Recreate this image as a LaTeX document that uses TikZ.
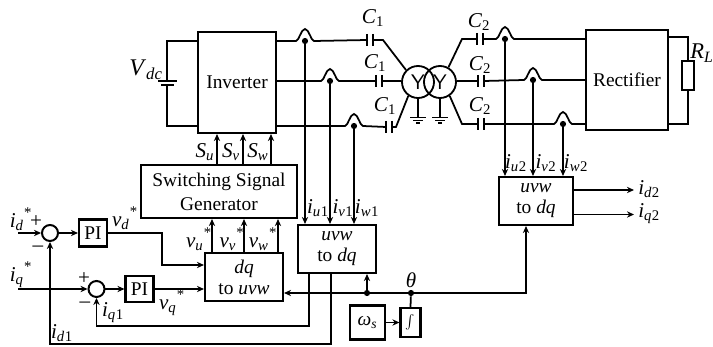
\documentclass[tikz,border=0pt]{standalone}
\usepackage{fontspec}
\setmainfont{Liberation Serif}
\usetikzlibrary{arrows.meta,positioning}

% jump of a wire over a sensing point
\newcommand{\hump}[2]{-- ({#1-9},#2) .. controls ({#1-6},#2) and ({#1-4},{#2-12}) .. ({#1},{#2-12}) .. controls ({#1+4},{#2-12}) and ({#1+6},#2) .. ({#1+9},#2)}
\newcommand{\lbl}[2]{\textit{#1}\textsubscript{\textit{#2}}}
\newcommand{\lbn}[3]{\textit{#1}\textsubscript{\textit{#2}\kern0.3pt #3}}
\newcommand{\lbs}[2]{\textit{#1}\textsubscript{\textit{#2}}\raisebox{2pt}{\textsuperscript{\kern0.2pt *}}}

\begin{document}
\begin{tikzpicture}[
    x=0.025cm, y=-0.025cm,
    wire/.style={line width=1.25pt},
    sig/.style={line width=1.25pt, -{Stealth[length=5pt,width=4.5pt]}},
    block/.style={draw, line width=1.5pt, align=center, inner sep=0pt, font=\fontsize{13.8}{17}\selectfont},
    conv/.style={block, font=\fontsize{13.8}{15}\selectfont},
    txt/.style={font=\fontsize{15}{16}\selectfont, inner sep=0pt},
    sumnode/.style={draw, circle, line width=1.4pt, minimum size=0.4cm, inner sep=0pt},
    dot/.style={fill, circle, minimum size=4.4pt, inner sep=0pt},
    ywind/.style={draw, circle, line width=1.3pt, minimum size=0.8cm, inner sep=0pt, font=\fontsize{15}{15}\sffamily\selectfont}
]
\useasboundingbox (0,0) rectangle (713,347);

% Blocks
\node[block, minimum width=1.95cm, minimum height=2.525cm] (inv) at (237,82.5) {Inverter};
\node[block, minimum width=2.05cm, minimum height=2.5cm] (rect) at (627,80) {Rectifier};
\node[block, minimum width=3.9cm, minimum height=1.325cm] (gen) at (219,191.5) {Switching Signal\\Generator};
\node[conv, minimum width=1.95cm, minimum height=1.2cm] (dq) at (244,277) {\textit{dq}\\to \textit{uvw}};
\node[conv, minimum width=1.95cm, minimum height=1.2cm] (ub1) at (337,249) {\textit{uvw}\\to \textit{dq}};
\node[conv, minimum width=1.85cm, minimum height=1.2cm] (ub2) at (536,201) {\textit{uvw}\\to \textit{dq}};
\node[block, minimum width=0.7cm, minimum height=0.675cm] (pi1) at (93,233) {PI};
\node[block, minimum width=0.7cm, minimum height=0.65cm] (pi2) at (139.5,289) {PI};
\node[block, minimum width=0.875cm, minimum height=0.85cm] (om) at (367.5,322.5) {\textit{ω}\textsubscript{\textit{s}}};
\node[block, minimum width=0.5cm, minimum height=0.725cm] (intg) at (410.5,322.5) {$\int$};
\node[sumnode] (s1) at (50,233) {};
\node[sumnode] (s2) at (96.5,289) {};
\node[ywind] (yl) at (418,82) {Y};
\node[ywind] (yr) at (440,82) {Y};
\node[draw, line width=1pt, minimum width=0.3cm, minimum height=0.725cm, inner sep=0pt] (rl) at (688,75.5) {};

% Battery
\coordinate (bt) at (167,41);
\coordinate (bb) at (167,126);
\coordinate (pa) at (167,81);
\coordinate (pb) at (167,85);
\draw[wire] (inv.west |- bt) -- (bt) -- (pa);
\draw[wire] (inv.west |- bb) -- (bb) -- (pb);
\draw[wire] (158,81) -- (177,81);
\draw[line width=1.7pt] (161,85) -- (174,85);
\node[txt, font=\fontsize{17}{17}\selectfont] (vdc) at (146,70) {\lbl{V}{dc}};

% Capacitors
\foreach \n/\x/\y in {ca/367/40, cb/376/81, cc/386/127, cd/477/39, ce/478/81, cf/478/124} {
    \coordinate (\n l) at (\x,\y);
    \coordinate (\n r) at (\x+6,\y);
    \draw[wire] (\x,\y-6) -- (\x,\y+6);
    \draw[wire] (\x+6,\y-6) -- (\x+6,\y+6);
}
\foreach \n/\x/\y/\t in {la/373/18/1, lb/375/63/1, lc/385/106/1, ld/479/22/2, le/480/65/2, lf/480/106/2} {
    \node[txt] (\n) at (\x,\y) {\textit{C}\textsubscript{\t}};
}

% Sensing points on the wires
\foreach \n/\x/\y in {hu/305/41, hv/330/81, hw/354/126, ku/505/39, kv/533/80, kw/563/124} {
    \coordinate (\n) at (\x,\y);
    \node[dot] (\n d) at (\x,\y) {};
}

% Primary side
\coordinate (ta) at (383,40);
\coordinate (tk) at (396,127);
\draw[wire] (inv.east |- hu) \hump{305}{41} -- (cal);
\draw[wire] (car) -- (ta) -- (yl.135);
\draw[wire] (inv.east |- hv) \hump{330}{81} -- (cbl);
\draw[wire] (cbr) -- (yl.west |- cbr);
\draw[wire] (inv.east |- hw) \hump{354}{126} -- (ccl);
\draw[wire] (ccr) -- (tk) -- (yl.235);

% Grounds
\foreach \n/\w in {yl/418, yr/440} {
    \coordinate (\n g) at (\w,117.5);
    \draw[wire] (\n.south) -- (\n g);
    \draw[wire] (\w-8,117.5) -- (\w+8,117.5);
    \draw[wire] (\w-5,120.5) -- (\w+5,120.5);
    \draw[wire] (\w-2,123) -- (\w+2,123);
}

% Secondary side
\coordinate (tb) at (462,39);
\coordinate (tc) at (462,124);
\draw[wire] (yr.60) -- (tb) -- (cdl);
\draw[wire] (cdr) \hump{505}{39} -- (rect.west |- ku);
\draw[wire] (yr.east |- cel) -- (cel);
\draw[wire] (cer) \hump{533}{80} -- (rect.west |- kv);
\draw[wire] (yr.-55) -- (tc) -- (cfl);
\draw[wire] (cfr) \hump{563}{124} -- (rect.west |- kw);

% Load
\coordinate (lt) at (688,37);
\coordinate (lb) at (688,124);
\draw[wire] (rect.east |- lt) -- (lt) -- (rl.north);
\draw[wire] (rect.east |- lb) -- (lb) -- (rl.south);
\node[txt, font=\fontsize{16}{16}\selectfont] (rlb) at (702,53) {\lbl{R}{L}};

% Current sensing
\draw[sig] (hu) -- (hu |- ub1.north);
\draw[sig] (hv) -- (hv |- ub1.north);
\draw[sig] (hw) -- (hw |- ub1.north);
\draw[sig] (ku) -- (ku |- ub2.north);
\draw[sig] (kv) -- (kv |- ub2.north);
\draw[sig] (kw) -- (kw |- ub2.north);
\foreach \n/\x/\y/\a/\b in {iu/318/208/u/1, iv/343/208/v/1, iw/367/208/w/1, ju/516/163/u/2, jv/546/163/v/2, jw/576/163/w/2} {
    \node[txt] (\n) at (\x,\y) {\lbn{i}{\a}{\b}};
}

% Gate signals
\foreach \n/\x in {su/217, sv/243, sw/271} {
    \coordinate (\n) at (\x,149);
    \draw[sig] (gen.north -| \n) -- (inv.south -| \n);
}
\node[txt] (sul) at (205,152) {\lbl{S}{u}};
\node[txt] (svl) at (231,152) {\lbl{S}{v}};
\node[txt] (swl) at (258,152) {\lbl{S}{w}};

% Modulation signals
\foreach \n/\x in {vu/212, vv/244, vw/278} {
    \coordinate (\n) at (\x,235);
    \draw[sig] (dq.north -| \n) -- (gen.south -| \n);
}
\node[txt] (vul) at (199,239) {\lbs{v}{u}};
\node[txt] (vvl) at (232,239) {\lbs{v}{v}};
\node[txt] (vwl) at (263,239) {\lbs{v}{w}};

% d axis loop
\coordinate (in1) at (18,233);
\coordinate (cd) at (162,233);
\coordinate (cq) at (162,265);
\draw[sig] (in1) -- (s1);
\draw[sig] (s1) -- (pi1);
\draw[sig] (pi1) -- (cd) -- (cq) -- (dq.west |- cq);
\coordinate (fd) at (331,344);
\draw[sig] (ub1.south -| fd) -- (fd) -- (fd -| s1) -- (s1);

% q axis loop
\coordinate (in2) at (18,289);
\coordinate (fq) at (309,326);
\draw[sig] (in2) -- (s2);
\draw[sig] (s2) -- (pi2);
\draw[sig] (pi2) -- (dq.west |- pi2);
\draw[sig] (ub1.south -| fq) -- (fq) -- (fq -| s2) -- (s2);

\node[txt] (idl) at (21,219) {\lbs{i}{d}};
\node[txt] (iql) at (21,275) {\lbs{i}{q}};
\node[txt] (pa1) at (36,222) {+};
\node[txt] (mi1) at (38,249) {–};
\node[txt] (pa2) at (84,279) {+};
\node[txt] (mi2) at (85,305) {–};
\node[txt] (vdl) at (125,218) {\lbs{v}{d}};
\node[txt] (vql) at (172,303) {\lbs{v}{q}};
\node[txt] (iq1) at (113,313) {\lbn{i}{q}{1}};
\node[txt] (id1) at (62,333) {\lbn{i}{d}{1}};

% Angle
\coordinate (jt) at (367,293);
\coordinate (th) at (411,293);
\coordinate (tr) at (526,293);
\node[dot] (jtd) at (jt) {};
\node[dot] (thd) at (th) {};
\node[txt] (thl) at (411,280) {\textit{θ}};
\draw[sig] (om) -- (intg);
\draw[wire] (intg.north) -- (thd);
\draw[sig] (thd) -- (dq.east |- thd);
\draw[sig] (jt) -- (jt |- ub1.south);
\draw[sig] (th) -- (tr) -- (ub2.south -| tr);

% Outputs
\coordinate (oa) at (634,190);
\coordinate (ob) at (634,214.5);
\draw[sig] (ub2.east |- oa) -- (oa);
\draw[sig] (ub2.east |- ob) -- (ob);
\node[txt, anchor=west] (odl) at (638,189) {\lbn{i}{d}{2}};
\node[txt, anchor=west] (oql) at (638,214) {\lbn{i}{q}{2}};
\end{tikzpicture}
\end{document}
